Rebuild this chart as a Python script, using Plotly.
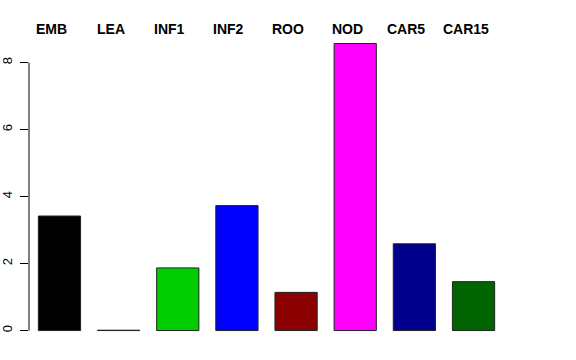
import plotly.graph_objects as go

categories = ["EMB", "LEA", "INF1", "INF2", "ROO", "NOD", "CAR5", "CAR15"]
values = [3.42, 0.01, 1.87, 3.73, 1.14, 8.57, 2.59, 1.46]
colors = ["#000000", "#FF0000", "#00CD00", "#0000FF", "#8B0000", "#FF00FF", "#00008B", "#006400"]
y_ticks = [0, 2, 4, 6, 8]

W, H = 576, 360
left_px, right_px = 29, 504.4
top_px, bot_px = 31.5, 342.5

xpos = list(range(len(categories)))

fig = go.Figure()
fig.add_trace(go.Bar(
    x=xpos, y=values, width=0.714,
    marker=dict(color=colors, line=dict(color="#222222", width=1)),
    hoverinfo="skip",
))

for name, xv in zip(categories, xpos):
    fig.add_annotation(
        x=xv, xref="x", xshift=-8,
        y=(bot_px - 28) / (bot_px - top_px), yref="paper",
        text=f"<b>{name}</b>", showarrow=False,
        font=dict(family="Liberation Sans", size=14, color="black"),
        xanchor="center", yanchor="middle",
    )

fig.add_shape(type="line", xref="paper", yref="y",
              x0=0, x1=0, y0=min(y_ticks), y1=max(y_ticks),
              line=dict(color="black", width=1))

fig.update_layout(
    width=W, height=H,
    margin=dict(l=left_px, r=W - right_px, t=top_px, b=H - bot_px, pad=0, autoexpand=False),
    plot_bgcolor="white", paper_bgcolor="white",
    showlegend=False,
    xaxis=dict(range=[-0.515, 7.515], showticklabels=False, showgrid=False,
               zeroline=False, showline=False, ticks="", automargin=False),
    yaxis=dict(range=[-0.342, 8.914], tickvals=y_ticks, ticks="outside",
               ticklen=8, tickcolor="black", tickwidth=1, showgrid=False,
               zeroline=False, showline=False, tickangle=-90, automargin=False,
               ticklabelstandoff=3,
               tickfont=dict(family="Liberation Sans", size=13, color="black")),
)

fig.write_html("out.html",
               post_script="document.body.style.margin='0';document.body.style.overflow='hidden';",
               config={"displayModeBar": False})
